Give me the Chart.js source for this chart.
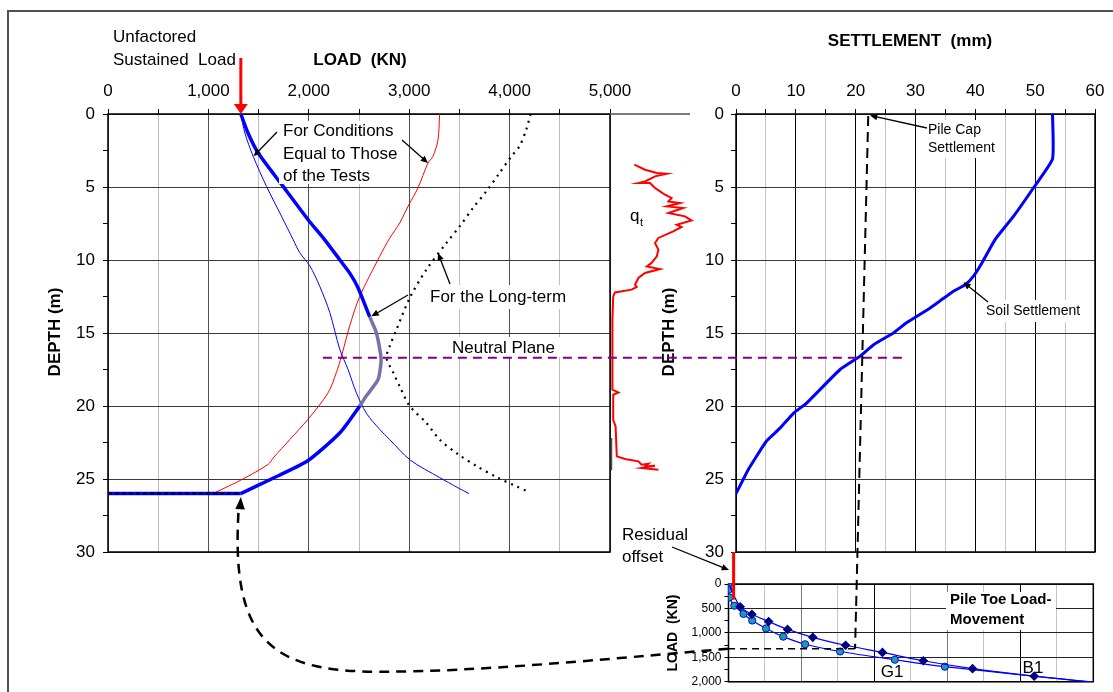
<!DOCTYPE html>
<html>
<head>
<meta charset="utf-8">
<title>Pile load, settlement and toe load-movement</title>
<script src="https://cdn.jsdelivr.net/npm/chart.js@4.4.1/dist/chart.umd.min.js"></script>
<style>
  html, body { margin: 0; padding: 0; background: #fff; }
  #page { position: relative; width: 1113px; height: 692px; overflow: hidden; background: #fff; }
  #frame { position: absolute; left: 7px; top: 10px; width: 1200px; height: 800px;
           border: 2px solid #505050; box-sizing: border-box; }
  canvas { position: absolute; }
</style>
</head>
<body>
<div id="page">
  <div id="frame"></div>
  <canvas id="loadChart" width="640" height="572" style="left:0px;top:0px"></canvas>
  <canvas id="qtChart" width="100" height="572" style="left:600px;top:0px"></canvas>
  <canvas id="settleChart" width="493" height="572" style="left:620px;top:0px"></canvas>
  <canvas id="toeChart" width="473" height="132" style="left:640px;top:560px"></canvas>
  <canvas id="overlay" width="1113" height="692" style="left:0px;top:0px;pointer-events:none"></canvas>
</div>
<script>
// ---- Load distribution (kN) versus depth (m) ----
// Conditions equal to those of the static loading tests (thin blue)
const testLoad  = [1323, 1363, 1446, 1579, 1728, 1844, 1910, 2010, 2109, 2209, 2308, 2391, 2474, 2574, 2706, 2806, 3010, 3303, 3485, 3595];
const testDepth = [0, 1.3, 2.9, 4.96, 7.0, 8.6, 9.5, 10.4, 11.8, 13.6, 16.1, 17.5, 19.1, 20.5, 21.6, 22.3, 23.7, 24.9, 25.6, 26.0];

// Long-term load distribution (thick blue)
const longLoad  = [1323, 1393, 1496, 1744, 1993, 2159, 2308, 2408, 2490, 2607, 2674, 2720, 2689, 2574, 2507, 2308, 1990, 1612, 1323];
const longDepth = [0, 1.28, 2.67, 4.96, 7.24, 8.62, 9.98, 10.9, 11.9, 13.9, 15.0, 16.8, 18.2, 19.3, 20.0, 21.85, 23.75, 25.05, 26.0];

// Shaft resistance curve (thin red)
const resistLoad  = [3303, 3287, 3237, 3187, 3087, 2998, 2905, 2806, 2706, 2507, 2408, 2325, 2275, 2192, 1993, 1811, 1645, 1595, 1330, 1075];
const resistDepth = [0, 1.76, 2.9, 3.36, 5.07, 6.2, 7.47, 8.5, 9.75, 12.5, 14.5, 16.6, 17.7, 19.1, 20.9, 22.3, 23.56, 24.0, 25.05, 25.9];

// Long-term resistance curve (dotted)
const ltLoad  = [4209, 4166, 4099, 4017, 3900, 3768, 3635, 3502, 3370, 3171, 3005, 2873, 2806, 2774, 2840, 2906, 3005, 3171, 3303, 3486, 3668, 3867, 4066, 4166];
const ltDepth = [0, 1.07, 2.2, 2.9, 4.04, 5.3, 6.44, 7.7, 8.84, 10.66, 12.6, 14.77, 15.9, 16.7, 17.7, 18.66, 20.0, 21.16, 22.3, 23.3, 24.1, 24.86, 25.5, 25.8];

// Sustained load at the pile head, toe depth and neutral plane
const sustainedLoad = 1323;   // kN
const toeDepth = 26.0;        // m
const neutralPlane = 16.7;    // m

// ---- Cone resistance q_t (MPa) versus depth (m) ----
const qtValue = [6.1, 8.75, 11.7, 14.2, 11.25, 8.75, 7.1, 10.0, 11.25, 12.5, 13.75, 15.4, 14.6, 17.5, 14.2, 18.3, 14.6, 18.75, 20.4, 16.7, 17.9, 15.8, 12.1, 11.25, 12.1, 11.7, 10.4, 9.2, 12.5, 8.75, 7.1, 6.25, 6.7, 5.4, 1.25, 0.8, 0.6, 0.6, 0.6, 2.1, 0.8, 0.8, 1.4, 1.7, 3.75, 7.1, 7.9, 9.6, 8.75, 11.25, 7.9, 12.1];
const qtDepth = [3.47, 3.82, 4.04, 4.09, 4.27, 4.62, 4.73, 4.73, 5.07, 5.3, 5.53, 5.75, 5.99, 6.1, 6.33, 6.44, 6.78, 7.01, 7.29, 7.58, 7.74, 8.04, 8.49, 8.84, 9.29, 9.75, 10.2, 10.44, 10.62, 10.89, 11.23, 11.69, 11.85, 12.03, 12.22, 12.49, 14.09, 15.0, 18.88, 19.07, 19.23, 20.94, 21.4, 23.45, 23.63, 23.79, 24.02, 23.95, 24.14, 24.09, 24.25, 24.36];

// ---- Soil settlement (mm) versus depth (m) ----
const soilSettle = [52.9, 52.9, 49.7, 46.4, 43.3, 41.1, 39.7, 38.3, 36.3, 34.1, 32.4, 28.5, 26.3, 23.0, 20.7, 17.4, 11.8, 9.6, 7.4, 5.1, 3.2, 2.0, 0];
const soilDepth  = [0, 3.08, 5.07, 7.0, 8.6, 10.2, 11.1, 11.7, 12.15, 12.8, 13.3, 14.3, 15.0, 15.8, 16.6, 17.5, 19.8, 20.5, 21.5, 22.4, 23.6, 24.4, 26.0];
const capSettleTop = 22.1;    // mm, pile cap settlement line at the head
const capSettleToe = 19.9;    // mm, same line where it meets the toe curve

// ---- Pile toe load-movement (movement units, load kN) ----
const g1Move = [0, 0, 0.02, 0.16, 0.41, 0.65, 1.03, 1.5, 2.1, 3.06, 4.56, 5.93, 10];
const g1Load = [0, 120, 276, 444, 612, 747, 909, 1077, 1232, 1380, 1549, 1691, 2010];
const b1Move = [0, 0.32, 0.64, 1.1, 1.62, 2.31, 3.21, 4.22, 5.34, 6.69, 8.38, 10];
const b1Load = [0, 465, 620, 768, 929, 1091, 1253, 1400, 1570, 1731, 1885, 2006];
const residualMove = 0.14;    // residual toe offset
const residualLoad = 320;     // kN

const FONT = "'Liberation Sans', Arial, Helvetica, sans-serif";
Chart.defaults.font.family = FONT;
Chart.defaults.color = '#000';
Chart.defaults.animation = false;

const pts = (xs, ys) => xs.map((x, i) => ({ x, y: ys[i] }));
const clear = 'rgba(0,0,0,0)';

// draws the plot-area border
const framePlugin = {
  id: 'frame',
  beforeDatasetsDraw(chart, args, opts) {
    if (opts.hide) return;
    const { left, right, top, bottom } = chart.chartArea;
    const c = chart.ctx;
    c.save();
    c.strokeStyle = opts.color || '#000';
    c.lineWidth = opts.width || 1.5;
    c.strokeRect(left, top, right - left, bottom - top);
    c.restore();
  }
};

function depthAxis(width, pad) {
  return {
    type: 'linear', reverse: true, min: 0, max: 30,
    ticks: { stepSize: 2.5, autoSkip: false, padding: pad, font: { size: 17 }, color: '#000',
             callback: v => (v % 5 === 0 ? String(v) : '') },
    grid: { color: c => (c.tick && c.tick.value % 5 === 0 ? '#3a3a3a' : clear),
            tickColor: '#000', tickLength: 5, lineWidth: 1 },
    border: { display: false },
    afterFit: s => { s.width = width; }
  };
}

function topAxis(max, step, major, height, majorColor, minorColor) {
  return {
    type: 'linear', position: 'top', min: 0, max,
    ticks: { stepSize: step, autoSkip: false, maxRotation: 0, padding: 7, font: { size: 17 }, color: '#000',
             callback: v => (v % major === 0 ? v.toLocaleString('en-US') : '') },
    grid: { color: c => (c.tick && c.tick.value % major === 0 ? majorColor : minorColor),
            tickColor: '#000', tickLength: 5, lineWidth: 1 },
    border: { display: false },
    afterFit: s => { s.height = height; }
  };
}

const baseOpts = {
  responsive: false,
  events: [],
  plugins: { legend: { display: false }, tooltip: { enabled: false } }
};

// ---- Load vs depth ----
const loadChart = new Chart(document.getElementById('loadChart'), {
  type: 'scatter',
  data: {
    datasets: [
      {
        data: pts(ltLoad, ltDepth), showLine: true, pointRadius: 0,
        borderColor: '#000', borderWidth: 2.2, borderDash: [2, 5], tension: 0.3
      },
      {
        data: pts(longLoad, longDepth), showLine: true, pointRadius: 0,
        borderColor: '#0000ff', borderWidth: 3.5, tension: 0.2,
        segment: { borderColor: c => (c.p0.parsed.y >= 13.9 && c.p1.parsed.y <= 20.0 ? '#7474a8' : '#0000ff') }
      },
      { // toe offset line
        data: [{ x: 0, y: toeDepth }, { x: sustainedLoad, y: toeDepth }],
        showLine: true, pointRadius: 0, borderColor: '#0000ff', borderWidth: 3.5
      },
      {
        data: pts(testLoad, testDepth), showLine: true, pointRadius: 0,
        borderColor: '#0000ff', borderWidth: 1, tension: 0.3
      },
      {
        data: pts(resistLoad, resistDepth), showLine: true, pointRadius: 0,
        borderColor: '#ff0000', borderWidth: 1, tension: 0.3
      }
    ]
  },
  options: {
    ...baseOpts,
    layout: { padding: { left: 0, top: 0, right: 30, bottom: 20 } },
    scales: {
      x: topAxis(5000, 500, 1000, 114, '#505050', '#bdbdbd'),
      y: depthAxis(108, 8)
    },
    plugins: { ...baseOpts.plugins, frame: {} }
  },
  plugins: [framePlugin]
});

// ---- Cone resistance profile ----
const qtFrame = {
  id: 'qtFrame',
  beforeDatasetsDraw(chart) {
    const { left, right, top } = chart.chartArea;
    const c = chart.ctx;
    c.save();
    c.strokeStyle = '#505050';
    c.lineWidth = 1.5;
    c.beginPath();
    c.moveTo(left, top);
    c.lineTo(right, top);
    c.moveTo(left + 1.5, chart.scales.y.getPixelForValue(22.2));
    c.lineTo(left + 1.5, chart.scales.y.getPixelForValue(24.4));
    c.stroke();
    c.restore();
  }
};
const qtChart = new Chart(document.getElementById('qtChart'), {
  type: 'scatter',
  data: {
    datasets: [{
      data: pts(qtValue, qtDepth), showLine: true, pointRadius: 0,
      borderColor: '#ff0000', borderWidth: 2, tension: 0, clip: false
    }]
  },
  options: {
    ...baseOpts,
    layout: { padding: { left: 10, top: 114, right: 10, bottom: 20 } },
    scales: {
      x: { type: 'linear', min: 0, max: 20, display: false },
      y: { type: 'linear', min: 0, max: 30, reverse: true, display: false }
    }
  },
  plugins: [qtFrame]
});

// ---- Settlement vs depth ----
const settleChart = new Chart(document.getElementById('settleChart'), {
  type: 'scatter',
  data: {
    datasets: [{
      data: pts(soilSettle, soilDepth), showLine: true, pointRadius: 0,
      borderColor: '#0000ff', borderWidth: 3, tension: 0.15
    }]
  },
  options: {
    ...baseOpts,
    layout: { padding: { left: 0, top: 0, right: 18, bottom: 20 } },
    scales: {
      x: topAxis(60, 5, 10, 114, '#000', '#c4c4c4'),
      y: depthAxis(116, 7)
    },
    plugins: { ...baseOpts.plugins, frame: {} }
  },
  plugins: [framePlugin]
});

// ---- Pile toe load-movement ----
const toeChart = new Chart(document.getElementById('toeChart'), {
  type: 'scatter',
  data: {
    datasets: [
      {
        data: pts(b1Move, b1Load), showLine: true, tension: 0.3,
        borderColor: '#0000ff', borderWidth: 1.2,
        pointStyle: 'rectRot', pointRadius: b1Move.map((m, i) => (i === 0 || i === b1Move.length - 1 ? 0 : 4)),
        pointBackgroundColor: '#000080', pointBorderColor: '#000080'
      },
      {
        data: pts(g1Move, g1Load), showLine: true, tension: 0.3,
        borderColor: '#0000ff', borderWidth: 1.2,
        pointStyle: 'circle', pointRadius: g1Move.map((m, i) => (i === g1Move.length - 1 ? 0 : 3.6)),
        pointBackgroundColor: '#1f9f9a', pointBorderColor: '#0000ff', pointBorderWidth: 1
      }
    ]
  },
  options: {
    ...baseOpts,
    layout: { padding: { left: 0, top: 24, right: 19.7, bottom: 8.7 } },
    scales: {
      x: {
        type: 'linear', position: 'bottom', min: 0, max: 10,
        ticks: { display: false, stepSize: 1 },
        grid: { drawTicks: false, lineWidth: 1,
                color: c => { const v = c.tick ? c.tick.value : 0; return v % 4 === 0 ? '#000' : (v % 2 === 0 ? '#7a7a7a' : '#c4c4c4'); } },
        border: { display: false },
        afterFit: s => { s.height = 0; }
      },
      y: {
        type: 'linear', reverse: true, min: 0, max: 2000,
        ticks: { stepSize: 250, autoSkip: false, padding: 3, font: { size: 12 }, color: '#000',
                 callback: v => (v % 500 === 0 ? v.toLocaleString('en-US') : '') },
        grid: { color: c => (c.tick && c.tick.value % 500 === 0 ? '#222' : clear),
                tickColor: '#000', tickLength: 4 },
        border: { display: false },
        afterFit: s => { s.width = 88.5; }
      }
    },
    plugins: { ...baseOpts.plugins, frame: { width: 1.5 } }
  },
  plugins: [framePlugin]
});

// ---- Labels, annotations and connecting lines ----
const ov = document.getElementById('overlay').getContext('2d');

function at(chart, xv, yv) {
  const cv = chart.canvas;
  return { x: cv.offsetLeft + chart.scales.x.getPixelForValue(xv),
           y: cv.offsetTop + chart.scales.y.getPixelForValue(yv) };
}
function text(str, x, y, size, o = {}) {
  ov.save();
  ov.font = (o.bold ? 'bold ' : '') + size + 'px ' + FONT;
  ov.fillStyle = o.color || '#000';
  ov.textAlign = o.align || 'left';
  ov.textBaseline = 'middle';
  if (o.rotate) { ov.translate(x, y); ov.rotate(-Math.PI / 2); ov.fillText(str, 0, 0); }
  else ov.fillText(str, x, y);
  ov.restore();
}
function box(x, y, w, h) { ov.fillStyle = '#fff'; ov.fillRect(x, y, w, h); }
function arrow(x1, y1, p, size = 8, width = 1.3) {
  const a = Math.atan2(p.y - y1, p.x - x1);
  ov.save();
  ov.strokeStyle = '#000'; ov.fillStyle = '#000'; ov.lineWidth = width; ov.setLineDash([]);
  ov.beginPath();
  ov.moveTo(x1, y1);
  ov.lineTo(p.x - Math.cos(a) * size * 0.7, p.y - Math.sin(a) * size * 0.7);
  ov.stroke();
  ov.beginPath();
  ov.moveTo(p.x, p.y);
  ov.lineTo(p.x - size * Math.cos(a - 0.42), p.y - size * Math.sin(a - 0.42));
  ov.lineTo(p.x - size * Math.cos(a + 0.42), p.y - size * Math.sin(a + 0.42));
  ov.closePath();
  ov.fill();
  ov.restore();
}

// headings and axis titles
text('Unfactored', 113, 37, 17);
text('Sustained  Load', 113, 60, 17);
text('LOAD  (KN)', 360, 60, 17, { bold: true, align: 'center' });
text('SETTLEMENT  (mm)', 910, 41, 17, { bold: true, align: 'center' });
text('DEPTH (m)', 55, 332, 17, { bold: true, align: 'center', rotate: true });
text('DEPTH (m)', 669, 332, 17, { bold: true, align: 'center', rotate: true });

// black dashes along the toe offset line
const toe0 = at(loadChart, 0, toeDepth);
const toe1 = at(loadChart, sustainedLoad, toeDepth);
ov.save();
ov.strokeStyle = '#000'; ov.lineWidth = 2; ov.setLineDash([4, 3]);
ov.beginPath(); ov.moveTo(toe0.x, toe0.y); ov.lineTo(toe1.x, toe1.y); ov.stroke();
ov.restore();

// sustained load arrow at the pile head
const head = at(loadChart, sustainedLoad, 0);
ov.save();
ov.strokeStyle = '#ff0000'; ov.fillStyle = '#ff0000'; ov.lineWidth = 3;
ov.beginPath(); ov.moveTo(head.x, 58); ov.lineTo(head.x, head.y - 9); ov.stroke();
ov.beginPath(); ov.moveTo(head.x - 7, head.y - 10); ov.lineTo(head.x + 7, head.y - 10); ov.lineTo(head.x, head.y); ov.closePath(); ov.fill();
ov.restore();

// annotations on the load diagram
box(279, 121, 124, 63);
text('For Conditions', 283, 131, 17);
text('Equal to Those', 283, 154, 17);
text('of the Tests', 283, 176, 17);
arrow(277, 132, at(loadChart, 1450, 2.9));
arrow(402, 140, at(loadChart, 3187, 3.36));

box(425, 285, 152, 24);
text('For the Long-term', 430, 297, 17);
arrow(450, 284, at(loadChart, 3287, 9.52));
arrow(408, 295, at(loadChart, 2624, 13.86));

box(448, 337, 112, 20);
text('Neutral Plane', 452, 348, 17);

// neutral plane across both diagrams
const np0 = at(loadChart, 2140, neutralPlane);
const np1 = at(settleChart, 28.5, neutralPlane);
ov.save();
ov.strokeStyle = '#800080'; ov.lineWidth = 2; ov.setLineDash([9, 6]);
ov.beginPath(); ov.moveTo(np0.x, np0.y); ov.lineTo(np1.x, np1.y); ov.stroke();
ov.restore();

// q_t label
text('q', 630, 216, 17);
text('t', 640, 223, 11);

// settlement annotations
box(924, 120, 76, 38);
text('Pile Cap', 928, 130, 14);
text('Settlement', 928, 148, 14);
arrow(927, 128, at(settleChart, 22.4, 0.1));

box(982, 300, 108, 22);
text('Soil Settlement', 986, 311, 14);
arrow(988, 302, at(settleChart, 38.0, 11.53));

// pile cap settlement line down to the toe load-movement curve
const capTop = at(settleChart, capSettleTop, 0);
const capBot = { x: at(settleChart, capSettleToe, 0).x, y: at(toeChart, 0, sustainedLoad).y };
ov.save();
ov.strokeStyle = '#000'; ov.lineWidth = 2; ov.setLineDash([10, 6]);
ov.beginPath(); ov.moveTo(capTop.x, capTop.y + 2); ov.lineTo(capBot.x, capBot.y); ov.stroke();
const toeStart = { x: at(toeChart, 0, sustainedLoad).x, y: capBot.y };
ov.lineWidth = 1.6; ov.setLineDash([7, 5]);
ov.beginPath(); ov.moveTo(capBot.x, capBot.y); ov.lineTo(toeStart.x, toeStart.y); ov.stroke();

// curved connector back to the pile toe on the load diagram
const tip = at(loadChart, sustainedLoad, toeDepth);
tip.y += 3.5;
const mid = { x: tip.x + 139, y: toeStart.y + 23 };
ov.lineWidth = 2.5; ov.setLineDash([10, 7]);
ov.beginPath();
ov.moveTo(toeStart.x, toeStart.y);
ov.bezierCurveTo(toeStart.x - 130, toeStart.y + 11, mid.x + 100, mid.y, mid.x, mid.y);
ov.bezierCurveTo(mid.x - 110, mid.y, tip.x - 11, tip.y + 143, tip.x - 2, tip.y + 9);
ov.stroke();
ov.setLineDash([]);
ov.fillStyle = '#000';
ov.beginPath(); ov.moveTo(tip.x, tip.y); ov.lineTo(tip.x - 5.5, tip.y + 12); ov.lineTo(tip.x + 4, tip.y + 12.5); ov.closePath(); ov.fill();
ov.restore();

// residual offset at the toe
const rTop = at(settleChart, 0, 30);
const rx = at(toeChart, residualMove, 0).x;
const rBot = at(toeChart, residualMove, residualLoad);
ov.save();
ov.strokeStyle = '#ff0000'; ov.lineWidth = 3;
ov.beginPath(); ov.moveTo(rx, rTop.y); ov.lineTo(rx, rBot.y); ov.stroke();
ov.restore();
text('Residual', 622, 535, 17);
text('offset', 622, 557, 17);
arrow(672, 547, { x: 729, y: 570 });

// toe load-movement labels
text('LOAD  (KN)', 673, 633, 14, { bold: true, align: 'center', rotate: true });
box(946, 592, 110, 38);
text('Pile Toe Load-', 950, 600, 15, { bold: true });
text('Movement', 950, 620, 15, { bold: true });
text('G1', 892, 672, 17, { align: 'center' });
text('B1', 1033, 668, 17, { align: 'center' });
</script>
</body>
</html>
